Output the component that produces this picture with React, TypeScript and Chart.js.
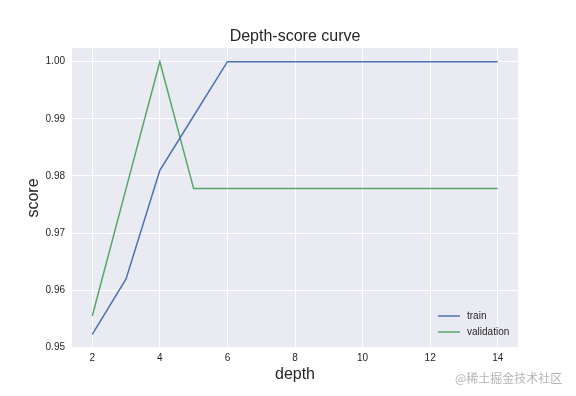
import React, { useEffect, useRef } from "react";
import { Chart, registerables } from "chart.js";

Chart.register(...registerables);

const chartTitle = "Depth-score curve";
const xLabel = "depth";
const yLabel = "score";
const watermark = "@稀土掘金技术社区";

const depths = [2, 3, 4, 5, 6, 7, 8, 9, 10, 11, 12, 13, 14];
const trainScores = [0.9523, 0.962, 0.981, 0.9905, 1.0, 1.0, 1.0, 1.0, 1.0, 1.0, 1.0, 1.0, 1.0];
const validationScores = [0.9555, 0.9778, 1.0, 0.9778, 0.9778, 0.9778, 0.9778, 0.9778, 0.9778, 0.9778, 0.9778, 0.9778, 0.9778];
const seriesNames = ["train", "validation"];
const seriesColors = ["#4C72B0", "#55A868"];
const xTicks = [2, 4, 6, 8, 10, 12, 14];
const yTicks = [0.95, 0.96, 0.97, 0.98, 0.99, 1.0];

const FONT = "'Liberation Sans', Arial, sans-serif";

const bgPlugin = {
  id: "bgPlugin",
  beforeDraw(chart: any) {
    const { ctx, chartArea } = chart;
    ctx.save();
    ctx.fillStyle = "#EAEAF2";
    ctx.fillRect(chartArea.left, chartArea.top, chartArea.right - chartArea.left, chartArea.bottom - chartArea.top);
    ctx.restore();
  },
};

const titlePlugin = {
  id: "centeredTitle",
  afterDraw(chart: any) {
    const { ctx, chartArea } = chart;
    ctx.save();
    ctx.font = `16px ${FONT}`;
    ctx.fillStyle = "#262626";
    ctx.textAlign = "center";
    ctx.textBaseline = "middle";
    ctx.fillText(chartTitle, (chartArea.left + chartArea.right) / 2, chartArea.top - 11);
    ctx.restore();
  },
};

const legendPlugin = {
  id: "innerLegend",
  afterDatasetsDraw(chart: any) {
    const { ctx, chartArea } = chart;
    ctx.save();
    ctx.font = `10px ${FONT}`;
    ctx.textBaseline = "middle";
    ctx.textAlign = "left";
    const x0 = chartArea.right - 80;
    const y0 = chartArea.bottom - 32;
    chart.data.datasets.forEach((ds: any, i: number) => {
      const y = y0 + i * 16;
      ctx.strokeStyle = ds.borderColor;
      ctx.lineWidth = 1.5;
      ctx.beginPath();
      ctx.moveTo(x0, y);
      ctx.lineTo(x0 + 22, y);
      ctx.stroke();
      ctx.fillStyle = "#262626";
      ctx.fillText(ds.label, x0 + 29, y);
    });
    ctx.restore();
  },
};

export default function App() {
  const ref = useRef<HTMLCanvasElement | null>(null);
  useEffect(() => {
    if (!ref.current) return;
    const mk = (vals: number[]) => depths.map((d, i) => ({ x: d, y: vals[i] }));
    const chart = new Chart(ref.current, {
      type: "line",
      data: {
        datasets: [
          { label: seriesNames[0], data: mk(trainScores), borderColor: seriesColors[0], backgroundColor: seriesColors[0], borderWidth: 1.5, pointRadius: 0, tension: 0, fill: false },
          { label: seriesNames[1], data: mk(validationScores), borderColor: seriesColors[1], backgroundColor: seriesColors[1], borderWidth: 1.5, pointRadius: 0, tension: 0, fill: false },
        ],
      },
      options: {
        responsive: false,
        animation: false,
        layout: { padding: { top: 48, right: 58, left: 0, bottom: 0 } },
        plugins: {
          legend: { display: false },
          tooltip: { enabled: false },
          title: { display: false },
        },
        scales: {
          x: {
            type: "linear",
            min: 1.4,
            max: 14.6,
            afterBuildTicks: (s: any) => { s.ticks = xTicks.map((v) => ({ value: v })); },
            afterFit: (s: any) => { s.height = 48; },
            border: { display: false },
            grid: { color: "#ffffff", lineWidth: 1, drawTicks: false },
            ticks: { color: "#262626", font: { family: FONT, size: 10 }, padding: 4, maxRotation: 0 },
            title: { display: true, text: xLabel, color: "#262626", font: { family: FONT, size: 16 }, padding: { top: 0, bottom: 12 } },
          },
          y: {
            type: "linear",
            min: 0.9499,
            max: 1.0024,
            afterBuildTicks: (s: any) => { s.ticks = yTicks.map((v) => ({ value: v })); },
            afterFit: (s: any) => { s.width = 72; },
            border: { display: false },
            grid: { color: "#ffffff", lineWidth: 1, drawTicks: false },
            ticks: { color: "#262626", font: { family: FONT, size: 10 }, padding: 7, callback: (v: any) => Number(v).toFixed(2) },
            title: { display: true, text: yLabel, color: "#262626", font: { family: FONT, size: 16 }, padding: { top: 24, bottom: 0 } },
          },
        },
      },
      plugins: [bgPlugin, legendPlugin, titlePlugin],
    });
    return () => chart.destroy();
  }, []);
  return (
    <div style={{ position: "absolute", left: 0, top: 0, width: 576, height: 396, background: "#fff" }}>
      <canvas ref={ref} width={576} height={396} />
      <span style={{ position: "absolute", left: 455, top: 369, fontFamily: "'Noto Sans CJK SC', sans-serif", fontSize: 12, color: "#b4b4b4", whiteSpace: "nowrap" }}>{watermark}</span>
    </div>
  );
}
